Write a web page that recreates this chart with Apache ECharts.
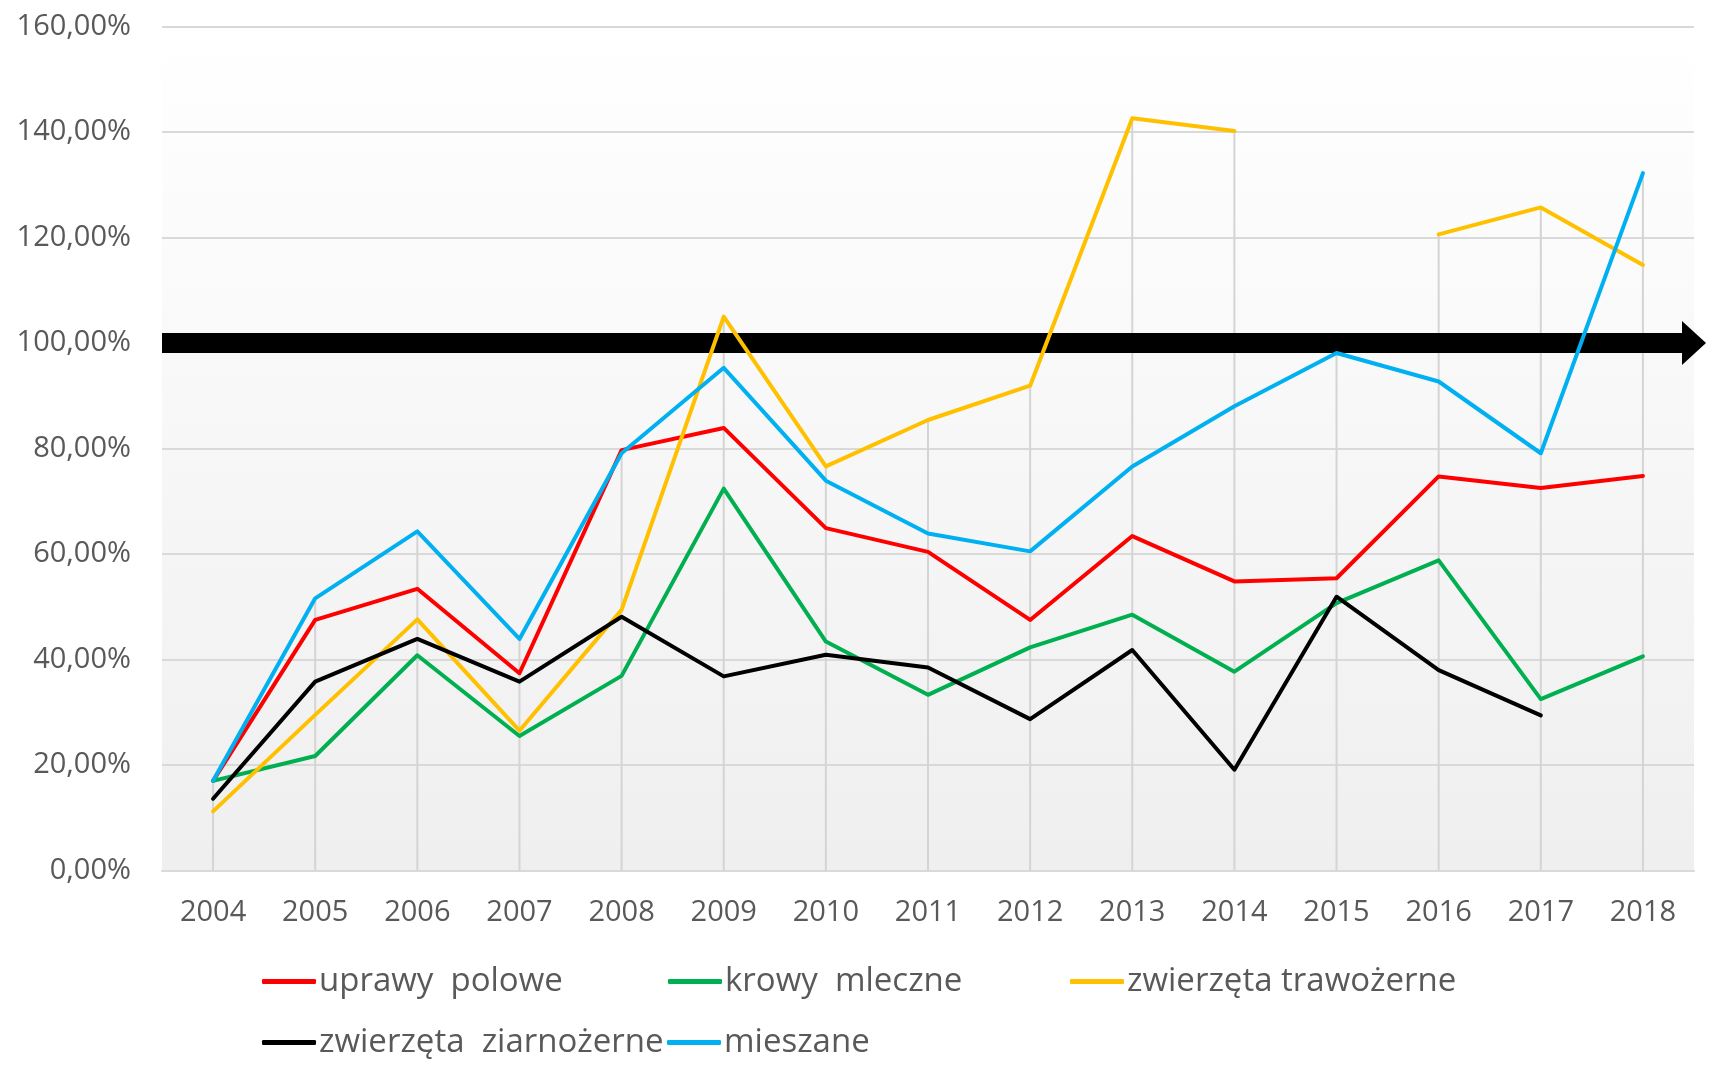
<!DOCTYPE html>
<html>
<head>
<meta charset="utf-8">
<title>chart</title>
<script src="https://cdn.jsdelivr.net/npm/echarts@6/dist/echarts.min.js"></script>
<style>
  html, body { margin: 0; padding: 0; background: #ffffff; }
  #myChart { width: 1710px; height: 1067px; }
</style>
</head>
<body>
<div id="myChart"></div>
<script>
// lata
const years = ["2004", "2005", "2006", "2007", "2008", "2009", "2010", "2011", "2012", "2013", "2014", "2015", "2016", "2017", "2018"];

// wartości w %
const uprawyPolowe = [17.0, 47.5, 53.4, 37.4, 79.7, 83.9, 64.9, 60.4, 47.5, 63.4, 54.8, 55.4, 74.7, 72.5, 74.8];
const krowyMleczne = [17.0, 21.7, 40.8, 25.5, 36.9, 72.4, 43.4, 33.3, 42.3, 48.5, 37.7, 50.7, 58.8, 32.5, 40.6];
const zwierzetaTrawozerne = [11.2, 29.5, 47.6, 26.5, 49.4, 105.0, 76.6, 85.4, 91.9, 142.6, 140.2, null, 120.6, 125.7, 114.8];
const zwierzetaZiarnozerne = [13.6, 35.8, 43.9, 35.8, 48.1, 36.8, 40.9, 38.5, 28.7, 41.8, 19.1, 51.9, 38.0, 29.4, null];
const mieszane = [17.0, 51.6, 64.3, 43.9, 79.1, 95.3, 73.9, 63.9, 60.5, 76.6, 88.0, 98.1, 92.7, 79.1, 132.2];

const seriesNames = ["uprawy  polowe", "krowy  mleczne", "zwierzęta trawożerne", "zwierzęta  ziarnożerne", "mieszane"];
const seriesValues = [uprawyPolowe, krowyMleczne, zwierzetaTrawozerne, zwierzetaZiarnozerne, mieszane];
const colors = ["#ff0000", "#00b050", "#ffc000", "#000000", "#00b0f0"];

const yMin = 0, yMax = 160, yStep = 20;
const threshold = 100;

const fontFamily = "'Open Sans', 'Noto Sans', sans-serif";
const textColor = "#595959";

// linie pionowe (drop lines) do najwyższego punktu w danym roku
let dropLines = years.map((y, i) => {
  let vals = seriesValues.map(s => s[i]).filter(v => v !== null);
  return Math.max.apply(null, vals);
});

let chart = echarts.init(document.getElementById("myChart"));

let seriesData = seriesValues.map((vals, i) => {
  return {
    name: seriesNames[i],
    type: "line",
    data: vals,
    symbol: "none",
    connectNulls: false,
    z: 5,
    lineStyle: { color: colors[i], width: 4, cap: "round", join: "round" },
    itemStyle: { color: colors[i] }
  };
});

seriesData.unshift({
  name: "drop",
  type: "bar",
  data: dropLines,
  barWidth: 2,
  silent: true,
  z: 1,
  itemStyle: { color: "#d4d4d4" }
});

seriesData.push({
  name: "arrow",
  type: "line",
  data: [],
  z: 20,
  markLine: {
    silent: true,
    symbol: ["none", "triangle"],
    symbolSize: [44, 24],
    symbolOffset: [-6, 0],
    label: { show: false },
    lineStyle: { color: "#000000", width: 20, type: "solid", opacity: 1 },
    emphasis: { disabled: true },
    data: [{ yAxis: threshold }]
  }
});

// legenda - osobno każda pozycja
const legendPos = [
  { left: 262, top: 965 },
  { left: 668, top: 965 },
  { left: 1070, top: 965 },
  { left: 262, top: 1026 },
  { left: 667, top: 1026 }
];
let legends = seriesNames.map((n, i) => {
  return {
    data: [n],
    left: legendPos[i].left,
    top: legendPos[i].top,
    icon: "roundRect",
    itemWidth: 54,
    itemHeight: 5,
    padding: 0,
    selectedMode: false,
    textStyle: { color: textColor, fontSize: 33, fontFamily: fontFamily, padding: [0, 0, 0, -2] }
  };
});

let ChartOption = {
  backgroundColor: "#ffffff",
  animation: false,
  grid: {
    left: 162,
    right: 16,
    top: 26.5,
    bottom: 196.5,
    show: true,
    borderWidth: 0,
    backgroundColor: new echarts.graphic.LinearGradient(0, 0, 0, 1, [
      { offset: 0, color: "#ffffff" },
      { offset: 1, color: "#efefef" }
    ])
  },
  legend: legends,
  xAxis: {
    type: "category",
    data: years,
    boundaryGap: true,
    axisLine: { show: true, lineStyle: { color: "#d9d9d9", width: 2 } },
    axisTick: { show: false },
    axisLabel: { color: textColor, fontSize: 29, fontFamily: fontFamily, margin: 28 },
    splitLine: { show: false }
  },
  yAxis: {
    type: "value",
    min: yMin,
    max: yMax,
    interval: yStep,
    axisLine: { show: false },
    axisTick: { show: false },
    axisLabel: {
      color: textColor,
      fontSize: 29,
      fontFamily: fontFamily,
      margin: 31,
      padding: [4, 0, 0, 0],
      formatter: v => v + ",00%"
    },
    splitLine: { lineStyle: { color: "#d9d9d9", width: 2 } }
  },
  series: seriesData
};

chart.setOption(ChartOption, true);
</script>
</body>
</html>
